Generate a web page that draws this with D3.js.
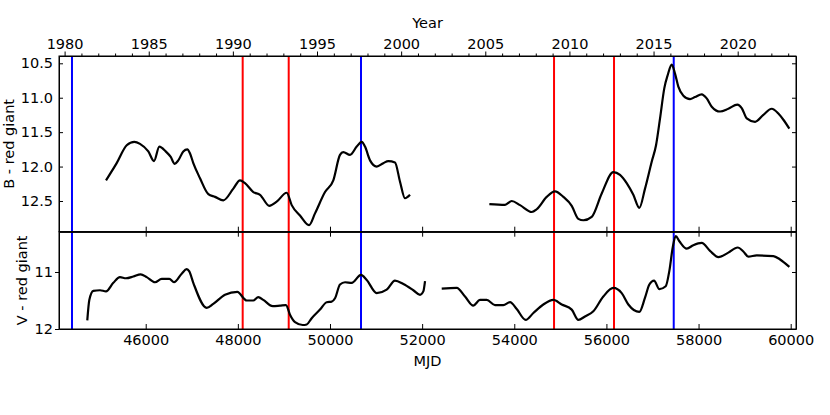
<!DOCTYPE html>
<html>
<head>
<meta charset="utf-8">
<script src="https://cdn.jsdelivr.net/npm/d3@7"></script>
<style>
  body { margin: 0; background: #fff; }
  svg { display: block; font-family: "DejaVu Sans", sans-serif; }
  .axis text { font-size: 14.5px; fill: #000; font-family: "DejaVu Sans", sans-serif; }
  .axis path, .axis line { stroke: #000; stroke-width: 1; }
</style>
</head>
<body>
<div id="chart"></div>
<script>
// B - red giant light curve (null = gap in coverage)
const bMjd = [45138, 45370, 45588, 45753, 45876, 46057, 46180, 46296, 46434, 46543, 46629, 46708,
  46816, 46903, 46962, 47033, 47179, 47359, 47504, 47685, 47902, 48047, 48155, 48336, 48481, 48683,
  48843, 49061, 49169, 49349, 49545, 49675, 49892, 50072, 50217, 50289, 50435, 50580, 50689, 50760,
  50869, 51014, 51157, 51266, 51411, 51520, 51628, 51737, null,
  53459, 53799, 53944, 54125, 54379, 54487, 54704, 54884, 55065, 55247, 55390, 55499, 55681, 55898,
  56150, 56295, 56440, 56584, 56714, 56838, 56983, 57077, 57164, 57257, 57331, 57418, 57489, 57561,
  57670, 57815, 57923, 58068, 58177, 58286, 58466, 58646, 58842, 58937, 59046, 59226, 59406, 59588,
  59732, 59841, 59971];
const bMag = [12.20, 11.95, 11.69, 11.64, 11.67, 11.78, 11.92, 11.71, 11.78, 11.86, 11.96, 11.91,
  11.78, 11.75, 11.81, 11.95, 12.17, 12.40, 12.44, 12.49, 12.32, 12.20, 12.24, 12.37, 12.41, 12.57,
  12.51, 12.38, 12.56, 12.71, 12.85, 12.68, 12.37, 12.20, 11.83, 11.79, 11.83, 11.71, 11.64, 11.71,
  11.91, 12.00, 11.95, 11.92, 11.94, 12.22, 12.46, 12.41, null,
  12.545, 12.555, 12.50, 12.56, 12.66, 12.62, 12.44, 12.36, 12.44, 12.57, 12.76, 12.78, 12.73, 12.39,
  12.08, 12.12, 12.24, 12.41, 12.60, 12.32, 11.93, 11.69, 11.30, 10.86, 10.67, 10.52, 10.65, 10.84,
  10.97, 11.02, 10.99, 10.95, 11.01, 11.13, 11.20, 11.16, 11.10, 11.15, 11.30, 11.35, 11.25, 11.16,
  11.23, 11.32, 11.45];

// V - red giant light curve
const vMjd = [44732, 44776, 44863, 45008, 45138, 45297, 45442, 45572, 45731, 45891, 46022, 46202,
  46347, 46512, 46614, 46781, 46890, 46946, 47033, 47324, 47467, 47721, 47988, 48192, 48336, 48444,
  48553, 48757, 48915, 49045, 49132, 49241, 49408, 49495, 49603, 49783, 49929, 50037, 50109, 50217,
  50326, 50471, 50673, 50797, 51014, 51231, 51411, 51592, 51809, 51954, 52026, 52063, null,
  52425, 52751, 52931, 53111, 53256, 53402, 53582, 53762, 53908, 54053, 54248, 54414, 54631, 54848,
  55030, 55247, 55390, 55535, 55716, 55933, 56150, 56332, 56476, 56714, 56838, 56932, 57034, 57149,
  57287, 57366, 57439, 57504, 57583, 57743, 57886, 58068, 58249, 58430, 58646, 58850, 58972, 59080,
  59263, 59624, 59769, 59971];
const vMag = [11.85, 11.49, 11.33, 11.32, 11.34, 11.19, 11.09, 11.11, 11.08, 11.04, 11.09, 11.18,
  11.12, 11.12, 11.18, 11.03, 10.95, 10.99, 11.19, 11.63, 11.56, 11.40, 11.35, 11.50, 11.50, 11.44,
  11.49, 11.60, 11.59, 11.58, 11.75, 11.88, 11.93, 11.92, 11.81, 11.66, 11.53, 11.52, 11.46, 11.22,
  11.18, 11.19, 11.05, 11.14, 11.37, 11.31, 11.15, 11.21, 11.32, 11.40, 11.34, 11.16, null,
  11.29, 11.28, 11.43, 11.59, 11.49, 11.49, 11.58, 11.58, 11.53, 11.65, 11.84, 11.72, 11.57, 11.49,
  11.57, 11.66, 11.84, 11.78, 11.69, 11.43, 11.28, 11.37, 11.57, 11.70, 11.45, 11.22, 11.15, 11.30,
  11.25, 10.98, 10.57, 10.37, 10.46, 10.59, 10.53, 10.49, 10.63, 10.74, 10.66, 10.57, 10.64, 10.73,
  10.71, 10.72, 10.78, 10.91];

// marked epochs (MJD)
const redEpochs = [48105, 49104, 54863, 56165];
const blueEpochs = [44400, 50673, 57461];

const mjdTicks = [46000, 48000, 50000, 52000, 54000, 56000, 58000, 60000];
const yearMajor = [1980, 1985, 1990, 1995, 2000, 2005, 2010, 2015, 2020];
const bTicks = [10.5, 11.0, 11.5, 12.0, 12.5];
const vTicks = [11, 12];

const W = 830, H = 415;
const pLeft = 59, pRight = 796, pTop = 56, pMid = 231.7, pBottom = 329;

const svg = d3.select("#chart").append("svg").attr("width", W).attr("height", H);
svg.append("rect").attr("width", W).attr("height", H).attr("fill", "#fff");

const x = d3.scaleLinear().domain([44118, 60115]).range([pLeft, pRight]);
const yB = d3.scaleLinear().domain([10.394, 12.946]).range([pTop, pMid]);
const yV = d3.scaleLinear().domain([10.293, 12.0]).range([pMid, pBottom]);

const toYear = m => 2000 + (m - 51544.5) / 365.25;
const xYear = d3.scaleLinear().domain(x.domain().map(toYear)).range(x.range());
const yearMinor = d3.range(1980, 2024).filter(y => y % 5 !== 0);

const zip = (xs, ys) => xs.map((m, i) => ({mjd: m, mag: ys[i]}));

function panel(y, yTop, yBot, mjd, mag, clipId) {
  svg.append("clipPath").attr("id", clipId)
    .append("rect").attr("x", pLeft).attr("y", yTop).attr("width", pRight - pLeft).attr("height", yBot - yTop);
  const g = svg.append("g").attr("clip-path", `url(#${clipId})`);
  g.selectAll("line.red").data(redEpochs).enter().append("line")
    .attr("x1", d => x(d)).attr("x2", d => x(d)).attr("y1", yTop).attr("y2", yBot)
    .attr("stroke", "#ff0000").attr("stroke-width", 2);
  g.selectAll("line.blue").data(blueEpochs).enter().append("line")
    .attr("x1", d => x(d)).attr("x2", d => x(d)).attr("y1", yTop).attr("y2", yBot)
    .attr("stroke", "#0000ff").attr("stroke-width", 2);
  const line = d3.line()
    .defined(d => d.mjd !== null && d.mag !== null)
    .x(d => x(d.mjd)).y(d => y(d.mag))
    .curve(d3.curveMonotoneX);
  g.append("path").datum(zip(mjd, mag)).attr("d", line)
    .attr("fill", "none").attr("stroke", "#000").attr("stroke-width", 2.2)
    .attr("stroke-linejoin", "round").attr("stroke-linecap", "butt");
}

panel(yB, pTop, pMid, bMjd, bMag, "clipB");
panel(yV, pMid, pBottom, vMjd, vMag, "clipV");

// B panel axes
svg.append("g").attr("class", "axis").attr("transform", `translate(${pLeft},0)`)
  .call(d3.axisLeft(yB).tickValues(bTicks).tickFormat(d3.format(".1f")).tickSizeInner(-4).tickSizeOuter(0).tickPadding(6));
svg.append("g").attr("class", "axis").attr("transform", `translate(${pRight},0)`)
  .call(d3.axisRight(yB).tickValues(bTicks).tickFormat("").tickSizeInner(-4).tickSizeOuter(0));
svg.append("g").attr("class", "axis").attr("transform", `translate(0,${pMid})`)
  .call(d3.axisBottom(x).tickValues(mjdTicks).tickFormat("").tickSizeInner(-5).tickSizeOuter(0));

// V panel axes
svg.append("g").attr("class", "axis").attr("transform", `translate(${pLeft},0)`)
  .call(d3.axisLeft(yV).tickValues(vTicks).tickFormat(d3.format("d")).tickSizeInner(4).tickSizeOuter(0).tickPadding(2));
svg.append("g").attr("class", "axis").attr("transform", `translate(${pRight},0)`)
  .call(d3.axisRight(yV).tickValues(vTicks).tickFormat("").tickSizeInner(-4).tickSizeOuter(0));
svg.append("g").attr("class", "axis").attr("transform", `translate(0,${pMid})`)
  .call(d3.axisTop(x).tickValues(mjdTicks).tickFormat("").tickSizeInner(-5).tickSizeOuter(0));
svg.append("g").attr("class", "axis").attr("transform", `translate(0,${pBottom})`)
  .call(d3.axisBottom(x).tickValues(mjdTicks).tickFormat(d3.format("d")).tickSizeInner(-5).tickSizeOuter(0).tickPadding(6));

// top year axis (outward ticks)
svg.append("g").attr("class", "axis").attr("transform", `translate(0,${pTop})`)
  .call(d3.axisTop(xYear).tickValues(yearMinor).tickFormat("").tickSizeInner(2.5).tickSizeOuter(0));
svg.append("g").attr("class", "axis").attr("transform", `translate(0,${pTop})`)
  .call(d3.axisTop(xYear).tickValues(yearMajor).tickFormat(d3.format("d")).tickSizeInner(4.5).tickSizeOuter(0).tickPadding(3));

// frames
[[pTop, pMid], [pMid, pBottom]].forEach(([a, b]) => {
  svg.append("rect").attr("x", pLeft).attr("y", a).attr("width", pRight - pLeft).attr("height", b - a)
    .attr("fill", "none").attr("stroke", "#000").attr("stroke-width", 1);
});

// axis titles
const title = (t, tx, ty, rot) => svg.append("text").text(t)
  .attr("transform", `translate(${tx},${ty})` + (rot ? " rotate(-90)" : ""))
  .attr("text-anchor", "middle").attr("font-size", "14.5px").attr("fill", "#000");
title("Year", (pLeft + pRight) / 2, 28, false);
title("MJD", (pLeft + pRight) / 2, 366, false);
title("B - red giant", 13.5, (pTop + pMid) / 2, true);
title("V - red giant", 27, (pMid + pBottom) / 2, true);
</script>
</body>
</html>
